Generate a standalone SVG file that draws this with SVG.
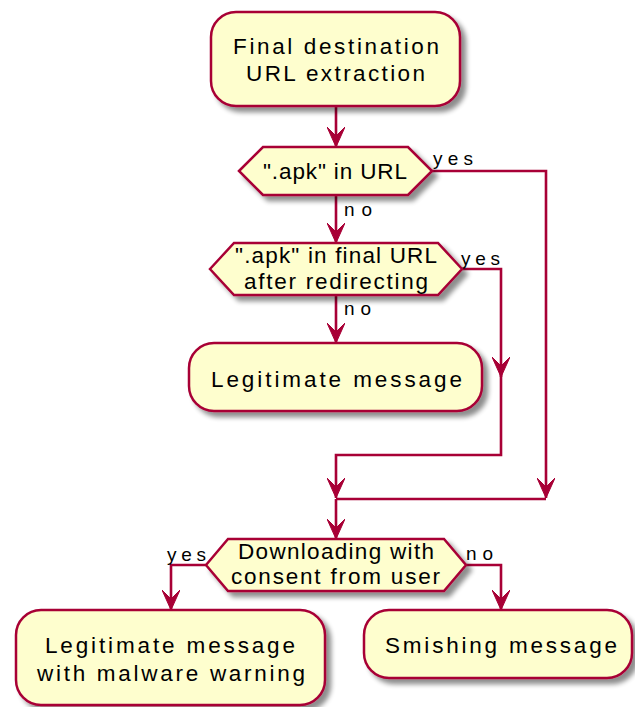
<svg xmlns="http://www.w3.org/2000/svg" width="635" height="707" viewBox="0 0 635 707">
  <defs>
    <filter id="shadow" x="-20%" y="-20%" width="140%" height="150%">
      <feGaussianBlur in="SourceAlpha" stdDeviation="2.5" result="blur"/>
      <feOffset in="blur" dx="5" dy="5" result="off"/>
      <feComponentTransfer in="off" result="soft">
        <feFuncA type="linear" slope="0.45"/>
      </feComponentTransfer>
      <feMerge>
        <feMergeNode in="soft"/>
        <feMergeNode in="SourceGraphic"/>
      </feMerge>
    </filter>
    <marker id="arrow" viewBox="0 0 20 18" refX="20" refY="9" markerWidth="20" markerHeight="18" markerUnits="userSpaceOnUse" orient="auto">
      <path d="M0,0 L20,9 L0,18 L9,9 Z" fill="#A80036" stroke="#A80036" stroke-width="1" stroke-linejoin="miter"/>
    </marker>
    <style>
      .node { fill: #FEFECE; stroke: #A80036; stroke-width: 2.5; filter: url(#shadow); }
      .edge { fill: none; stroke: #A80036; stroke-width: 2.6; }
      .arr { marker-end: url(#arrow); }
      .t { font-family: "Liberation Sans", Arial, sans-serif; font-size: 22.5px; fill: #000000; }
      .lbl { font-family: "Liberation Sans", Arial, sans-serif; font-size: 19px; fill: #000000; }
    </style>
  </defs>

  <!-- connectors -->
  <g id="connectors">
    <path class="edge arr" d="M336,106 L336,147"/>
    <path class="edge arr" d="M336,195 L336,243"/>
    <path class="edge arr" d="M432,171 L546,171 L546,498"/>
    <path class="edge arr" d="M336,295 L336,343"/>
    <path class="edge arr" d="M462,269 L501,269 L501,377"/>
    <path class="edge arr" d="M501,370 L501,455 L336,455 L336,498"/>
    <path class="edge" d="M336,499 L546,499"/>
    <path class="edge arr" d="M336,499 L336,539"/>
    <path class="edge arr" d="M206,565 L171,565 L171,610"/>
    <path class="edge arr" d="M466,565 L501,565 L501,610"/>

    <text class="lbl" x="433" y="165" textLength="40" lengthAdjust="spacing">yes</text>
    <text class="lbl" x="344" y="216" textLength="28" lengthAdjust="spacing">no</text>
    <text class="lbl" x="461" y="265" textLength="39" lengthAdjust="spacing">yes</text>
    <text class="lbl" x="344" y="315" textLength="27" lengthAdjust="spacing">no</text>
    <text class="lbl" x="167" y="561" textLength="39" lengthAdjust="spacing">yes</text>
    <text class="lbl" x="466" y="560" textLength="27" lengthAdjust="spacing">no</text>
  </g>

  <g id="final-url">
    <rect class="node" x="211" y="12" width="249" height="94" rx="25" ry="25"/>
    <text class="t" x="233" y="54" textLength="206" lengthAdjust="spacing">Final destination</text>
    <text class="t" x="246" y="81" textLength="179" lengthAdjust="spacing">URL extraction</text>
  </g>

  <g id="apk-in-url">
    <polygon class="node" points="239,171 263,147 408,147 432,171 408,195 263,195"/>
    <text class="t" x="263" y="179" textLength="144" lengthAdjust="spacing">".apk" in URL</text>
  </g>

  <g id="apk-in-final-url">
    <polygon class="node" points="210,269 234,243 438,243 462,269 438,295 234,295"/>
    <text class="t" x="235" y="263" textLength="202" lengthAdjust="spacing">".apk" in final URL</text>
    <text class="t" x="244" y="289" textLength="184" lengthAdjust="spacing">after redirecting</text>
  </g>

  <g id="legitimate">
    <rect class="node" x="189" y="343" width="293" height="68" rx="25" ry="25"/>
    <text class="t" x="211" y="387" textLength="251" lengthAdjust="spacing">Legitimate message</text>
  </g>

  <g id="consent">
    <polygon class="node" points="206,565 228,539 444,539 466,565 444,591 228,591"/>
    <text class="t" x="238" y="559" textLength="196" lengthAdjust="spacing">Downloading with</text>
    <text class="t" x="231" y="584" textLength="209" lengthAdjust="spacing">consent from user</text>
  </g>

  <g id="legitimate-warning">
    <rect class="node" x="16" y="610" width="309" height="95" rx="25" ry="25"/>
    <text class="t" x="45" y="653" textLength="250" lengthAdjust="spacing">Legitimate message</text>
    <text class="t" x="37" y="681" textLength="268" lengthAdjust="spacing">with malware warning</text>
  </g>

  <g id="smishing">
    <rect class="node" x="364" y="610" width="268" height="68" rx="25" ry="25"/>
    <text class="t" x="385" y="653" textLength="232" lengthAdjust="spacing">Smishing message</text>
  </g>
</svg>
